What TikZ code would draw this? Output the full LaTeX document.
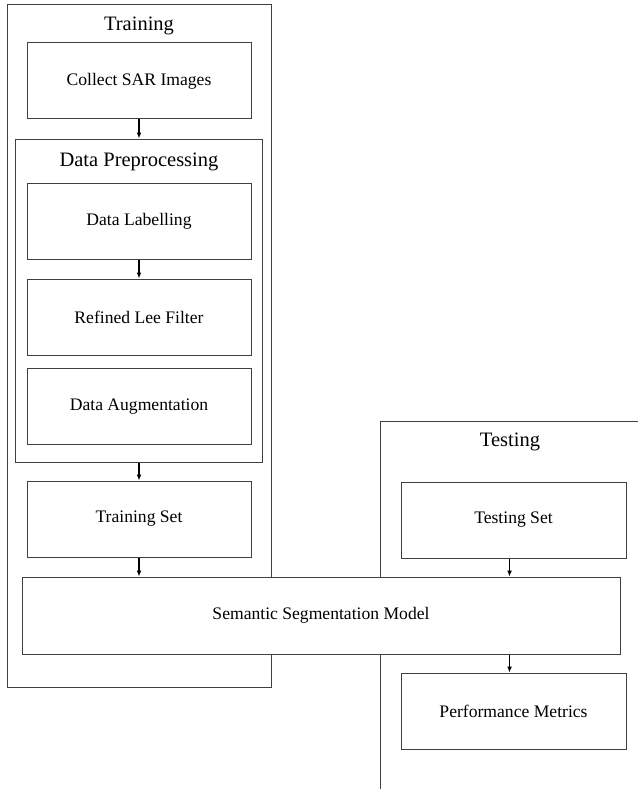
\documentclass[tikz,border=0pt]{standalone}
\usepackage{fontspec}
\setmainfont{Liberation Serif}
\usetikzlibrary{calc,positioning,arrows.meta}
\tikzset{
    stepbox/.style={
      draw=black!75, line width=1pt, fill=white, inner sep=0pt,
      minimum width=224pt, minimum height=76pt,
      font=\fontsize{17.6}{20}\selectfont,
    },
    groupbox/.style={
      draw=black!75, line width=1pt, inner sep=0pt,
    },
    grouptitle/.style={
      inner sep=0pt, font=\fontsize{20.5}{24}\selectfont,
    },
    flow/.style={-{Latex[length=6pt,width=5pt]}, line width=1.2pt},
  }

\begin{document}
\begin{tikzpicture}[x=1pt,y=-1pt]
      \useasboundingbox (0,0) rectangle (638,789);

      % training frame
      \node[groupbox, minimum width=264pt, minimum height=682pt] (training) at (139,346) {};
      \node[grouptitle] (trainingtitle) at (139,26) {Training};

      % testing frame, runs off the page
      \coordinate (testcorner) at (380,421);
      \draw[draw=black!75, line width=1pt] (testcorner |- 0,789) -- (testcorner) -- (638,421);
      \node[grouptitle] (testingtitle) at (510,442) {Testing};

      % training steps
      \node[stepbox] (collect) at (139,81) {Collect SAR Images};

      \node[groupbox, minimum width=247pt, minimum height=323pt] (prep) at (138.5,300.5) {};
      \node[grouptitle] (preptitle) at (139,162) {Data Preprocessing};

      \node[stepbox] (labelling) at (139,221) {Data Labelling};
      \node[stepbox] (leefilter) at (139,317) {Refined Lee Filter};
      \node[stepbox] (augment) at (139,406.5) {Data Augmentation};

      \node[stepbox] (trainset) at (139,519) {Training Set};

      % testing steps
      \node[stepbox, minimum width=225pt] (testset) at (513.5,520) {Testing Set};
      \node[stepbox, minimum width=225pt] (metrics) at (513.5,711) {Performance Metrics};

      % model across both frames
      \node[stepbox, minimum width=598pt, minimum height=77pt] (model) at (321,615.5) {Semantic Segmentation Model};

      % arrows
      \draw[flow] (collect.south) -- (collect.south |- prep.north);
      \draw[flow] (labelling.south) -- (leefilter.north);
      \draw[flow] (trainset.south |- prep.south) -- (trainset.north);
      \draw[flow] (trainset.south) -- (trainset.south |- model.north);
      \draw[flow] ($(testset.south)+(-4,0)$) -- ($(testset.south |- model.north)+(-4,0)$);
      \draw[flow] ($(metrics.north |- model.south)+(-4,0)$) -- ($(metrics.north)+(-4,0)$);
    \end{tikzpicture}
\end{document}
